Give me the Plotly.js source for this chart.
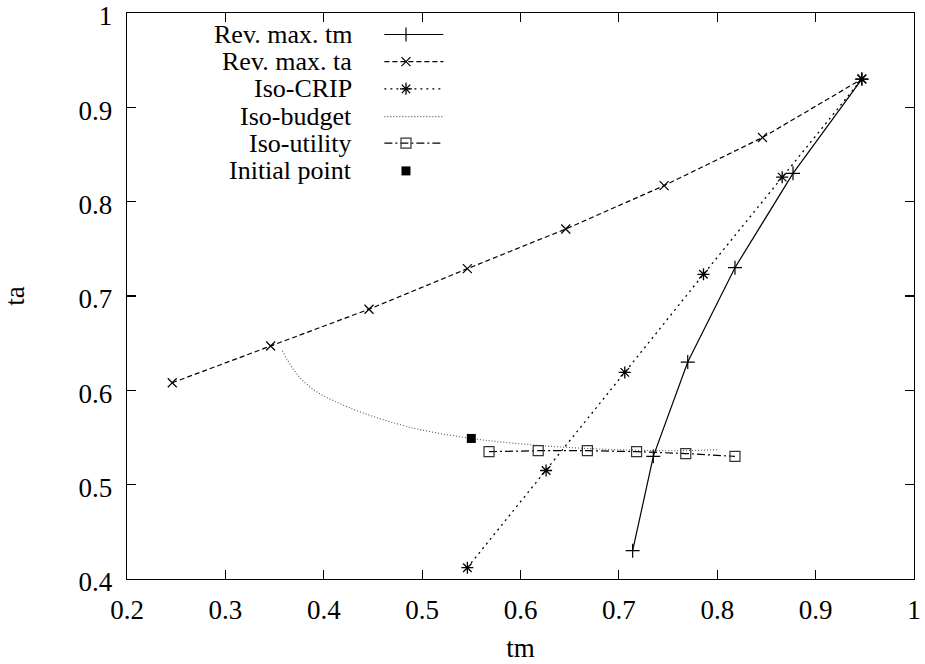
<!DOCTYPE html>
<html>
<head>
<meta charset="utf-8">
<script src="https://cdn.plot.ly/plotly-3.0.1.min.js"></script>
<style>
  html, body { margin: 0; padding: 0; background: #fff; }
  #chart { width: 925px; height: 664px; }
</style>
</head>
<body>
<div id="chart"></div>
<script>
// Revenue-maximising frontier in tm
const revTmX = [0.714, 0.735, 0.770, 0.818, 0.877, 0.947];
const revTmY = [0.430, 0.530, 0.630, 0.730, 0.830, 0.930];

// Revenue-maximising frontier in ta
const revTaX = [0.246, 0.346, 0.446, 0.546, 0.646, 0.746, 0.846, 0.947];
const revTaY = [0.608, 0.647, 0.686, 0.729, 0.771, 0.817, 0.868, 0.930];

// Iso-CRIP line
const cripX = [0.546, 0.626, 0.706, 0.786, 0.866, 0.947];
const cripY = [0.412, 0.515, 0.619, 0.723, 0.826, 0.930];

// Iso-budget curve
const budgetX = [0.358, 0.362, 0.368, 0.378, 0.392, 0.410, 0.440, 0.491, 0.550, 0.593, 0.640, 0.700, 0.760, 0.800];
const budgetY = [0.642, 0.634, 0.624, 0.611, 0.599, 0.589, 0.576, 0.560, 0.549, 0.544, 0.540, 0.537, 0.536, 0.537];

// Iso-utility curve
const utilX = [0.568, 0.618, 0.668, 0.718, 0.768, 0.818];
const utilY = [0.535, 0.536, 0.536, 0.535, 0.533, 0.530];

// Starting allocation
const initX = [0.550];
const initY = [0.549];

// Axis ticks
const xTicks = [0.2, 0.3, 0.4, 0.5, 0.6, 0.7, 0.8, 0.9, 1.0];
const xTickText = ['0.2', '0.3', '0.4', '0.5', '0.6', '0.7', '0.8', '0.9', '1'];
const yTicks = [0.4, 0.5, 0.6, 0.7, 0.8, 0.9, 1.0];
const yTickText = ['0.4', '0.5', '0.6', '0.7', '0.8', '0.9', '1'];

// Key entries, in order
const keyNames = ['Rev. max. tm', 'Rev. max. ta', 'Iso-CRIP', 'Iso-budget', 'Iso-utility', 'Initial point'];

const FONT = 'Liberation Serif';
const FSIZE = 27;
const KEYSIZE = 26;
const INK = '#000';

const styles = [
  { line: { color: INK, width: 1.2, dash: 'solid' }, marker: { symbol: 'cross-thin-open', size: 10, color: INK, line: { color: INK, width: 1.2 } }, mode: 'lines+markers' },
  { line: { color: INK, width: 1.2, dash: '5px,3px' }, marker: { symbol: 'x-thin-open', size: 9, color: INK, line: { color: INK, width: 1.2 } }, mode: 'lines+markers' },
  { line: { color: INK, width: 1.3, dash: '2px,4px' }, marker: { symbol: 'asterisk-open', size: 10, color: INK, line: { color: INK, width: 1.3 } }, mode: 'lines+markers' },
  { line: { color: '#555', width: 1.1, dash: '1px,2px', shape: 'spline', smoothing: 1 }, mode: 'lines' },
  { line: { color: INK, width: 1.2, dash: '8px,3px,2px,3px' }, marker: { symbol: 'square-open', size: 10, color: '#333', line: { color: '#333', width: 1.2 } }, mode: 'lines+markers' },
  { marker: { symbol: 'square', size: 9, color: INK }, mode: 'markers' }
];

const series = [
  [revTmX, revTmY], [revTaX, revTaY], [cripX, cripY],
  [budgetX, budgetY], [utilX, utilY], [initX, initY]
];

const traces = series.map((s, i) => Object.assign({
  type: 'scatter', x: s[0], y: s[1], name: keyNames[i],
  showlegend: false, hoverinfo: 'skip'
}, styles[i]));

// Key samples drawn on an overlay axis spanning the plot area (0..1)
const keyLineX0 = 0.327, keyLineX1 = 0.402, keyMarkX = 0.3545, keyTextX = 0.287;
const keyRowY = [0.962, 0.914, 0.866, 0.817, 0.770, 0.721];
const annotations = [];
keyNames.forEach((name, i) => {
  const st = styles[i];
  if (st.line) {
    traces.push({
      type: 'scatter', mode: 'lines', xaxis: 'x2', yaxis: 'y2',
      x: [keyLineX0, keyLineX1], y: [keyRowY[i], keyRowY[i]],
      line: Object.assign({}, st.line, { shape: 'linear' }), showlegend: false, hoverinfo: 'skip'
    });
  }
  if (st.marker) {
    traces.push({
      type: 'scatter', mode: 'markers', xaxis: 'x2', yaxis: 'y2',
      x: [keyMarkX], y: [keyRowY[i]],
      marker: st.marker, showlegend: false, hoverinfo: 'skip'
    });
  }
  annotations.push({
    xref: 'paper', yref: 'paper', x: keyTextX, y: keyRowY[i],
    xanchor: 'right', yanchor: 'middle', text: name, showarrow: false,
    borderpad: 0,
    font: { family: FONT, size: KEYSIZE, color: INK }
  });
});

const axisCommon = {
  showgrid: false, zeroline: false,
  showline: true, linecolor: INK, linewidth: 1.3, mirror: 'ticks',
  ticks: 'inside', ticklen: 9, tickwidth: 1.2, tickcolor: INK,
  ticklabeloverflow: 'allow',
  tickfont: { family: FONT, size: FSIZE, color: INK }
};

const layout = {
  width: 925, height: 664,
  margin: { l: 127, r: 11, t: 13, b: 85 },
  paper_bgcolor: '#fff', plot_bgcolor: '#fff',
  font: { family: FONT, size: FSIZE, color: INK },
  showlegend: false,
  xaxis: Object.assign({}, axisCommon, {
    range: [0.2, 1.0], tickvals: xTicks, ticktext: xTickText,
    ticklabelstandoff: 6,
    title: { text: 'tm', font: { family: FONT, size: FSIZE, color: INK }, standoff: 14 }
  }),
  yaxis: Object.assign({}, axisCommon, {
    range: [0.4, 1.0], tickvals: yTicks, ticktext: yTickText,
    ticklabelstandoff: 8, ticklabelshift: 3,
    title: { text: 'ta', font: { family: FONT, size: FSIZE, color: INK }, standoff: 50 }
  }),
  xaxis2: { overlaying: 'x', anchor: 'y2', range: [0, 1], visible: false, fixedrange: true },
  yaxis2: { overlaying: 'y', anchor: 'x2', range: [0, 1], visible: false, fixedrange: true },
  annotations: annotations
};

Plotly.newPlot('chart', traces, layout, { displayModeBar: false, staticPlot: true });
</script>
</body>
</html>
